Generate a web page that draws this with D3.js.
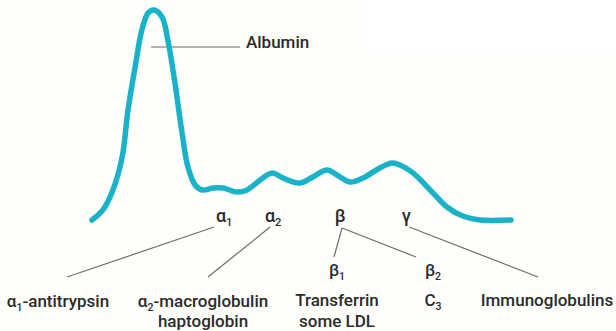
<!DOCTYPE html>
<html>
<head>
<meta charset="utf-8">
<script src="https://cdn.jsdelivr.net/npm/d3@7/dist/d3.min.js"></script>
<style>
  html, body { margin: 0; padding: 0; background: #fefefa; }
  svg { display: block; }
  text { font-family: Roboto, "Liberation Sans", Arial, sans-serif; font-weight: 500; fill: #2b2b2b; }
</style>
</head>
<body>
<svg id="chart" width="616" height="331"></svg>
<script>
// Serum protein electrophoresis densitometer trace.
// Relative mobility (0 = cathode end of the trace, 100 = far end) and relative density.
const mobility = [0, 2.6, 5.0, 7.2, 8.6, 10.3, 11.9, 13.4, 14.8, 16.7, 18.1, 19.8, 21.5, 22.9,
  24.6, 26.3, 28.9, 31.3, 34.6, 37.0, 40.1, 43.0, 45.6, 49.6, 52.7, 56.1, 59.2, 61.6,
  64.7, 68.7, 71.6, 73.5, 76.6, 80.7, 84.7, 88.5, 92.6, 100];
const density = [0, 4.8, 14.3, 30.0, 52.4, 72.9, 90.5, 98.6, 100, 96.7, 85.7, 65.2, 41.4, 25.2,
  16.7, 14.3, 15.2, 15.2, 13.3, 14.3, 19.0, 22.4, 20.0, 17.6, 20.5, 23.8, 20.5, 18.1,
  20.0, 24.8, 27.1, 26.2, 22.4, 14.3, 6.2, 1.9, 0, 0];

// Fraction labels under the trace
const bandNames = ["α", "α", "β", "γ"];
const bandSubs = ["1", "2", "", ""];
const bandMobility = [31.3, 43.0, 59.2, 75.0];

// Main peak label
const peakLabel = "Albumin";

// Proteins belonging to each fraction
const proteinLines = [
  [[{ t: "α" }, { t: "1", sub: true }, { t: "-antitrypsin" }]],
  [[{ t: "α" }, { t: "2", sub: true }, { t: "-macroglobulin" }], [{ t: "haptoglobin" }]],
  [[{ t: "β" }, { t: "1", sub: true }], [{ t: "Transferrin" }], [{ t: "some LDL" }]],
  [[{ t: "β" }, { t: "2", sub: true }], [{ t: "C" }, { t: "3", sub: true }]],
  [[{ t: "Immunoglobulins" }]]
];

const svg = d3.select("#chart");
const W = 616, H = 331;

// faint lighter patch in the upper right of the sheet
svg.append("rect").attr("x", 362).attr("y", 0).attr("width", W - 362).attr("height", 52)
  .attr("fill", "#ffffff");

const x = d3.scaleLinear().domain([0, 100]).range([92, 511]);
const y = d3.scaleLinear().domain([0, 100]).range([220, 10]);

const pts = mobility.map((m, i) => [m, density[i]]);
const line = d3.line().x(d => x(d[0])).y(d => y(d[1])).curve(d3.curveCatmullRom.alpha(0.5));

const leaderColor = "#6d6d6d";

// Albumin leader line from inside the peak
const peakIdx = density.indexOf(d3.max(density));
svg.append("line")
  .attr("x1", x(mobility[peakIdx]) - 3).attr("x2", 240)
  .attr("y1", 47).attr("y2", 47)
  .attr("stroke", leaderColor).attr("stroke-width", 1.2);

svg.append("path")
  .datum(pts)
  .attr("d", line)
  .attr("fill", "none")
  .attr("stroke", "#19b2c9")
  .attr("stroke-width", 5.5)
  .attr("stroke-linecap", "round")
  .attr("stroke-linejoin", "round");

svg.append("text")
  .attr("x", 246).attr("y", 48)
  .attr("font-size", 17)
  .text(peakLabel);

// draw a label made of normal and subscript parts, centred on cx
function drawParts(parts, cx, baseline, size) {
  const t = svg.append("text").attr("y", baseline).attr("font-size", size)
    .attr("text-anchor", "middle").attr("x", cx);
  let shifted = false;
  parts.forEach(p => {
    const s = t.append("tspan").text(p.t);
    if (p.sub) {
      s.attr("font-size", size * 0.62).attr("dy", 4);
      shifted = true;
    } else if (shifted) {
      s.attr("dy", -4);
      shifted = false;
    }
  });
  return t;
}

// Fraction symbols
bandNames.forEach((n, i) => {
  const parts = [{ t: n }];
  if (bandSubs[i]) parts.push({ t: bandSubs[i], sub: true });
  drawParts(parts, x(bandMobility[i]) + (bandSubs[i] ? 1 : 0), 222, 18);
});

// Leader lines from fractions to their proteins
const leaders = [
  [x(bandMobility[0]) - 9, 227, 67, 277],
  [x(bandMobility[1]) - 2, 227, 208, 277],
  [x(bandMobility[2]) + 2, 228, 334, 257],
  [x(bandMobility[2]) + 2, 228, 416, 257],
  [x(bandMobility[3]) + 3, 227, 538, 277]
];
leaders.forEach(l => {
  svg.append("line")
    .attr("x1", l[0]).attr("y1", l[1]).attr("x2", l[2]).attr("y2", l[3])
    .attr("stroke", leaderColor).attr("stroke-width", 1.2);
});

// Protein labels
const proteinCx = [58, 203, 337, 433, 547];
const proteinBase = [
  [307],
  [307, 327],
  [276, 306, 327],
  [276, 306],
  [306]
];
proteinLines.forEach((lines, i) => {
  lines.forEach((parts, j) => {
    drawParts(parts, proteinCx[i], proteinBase[i][j], 17);
  });
});
</script>
</body>
</html>
